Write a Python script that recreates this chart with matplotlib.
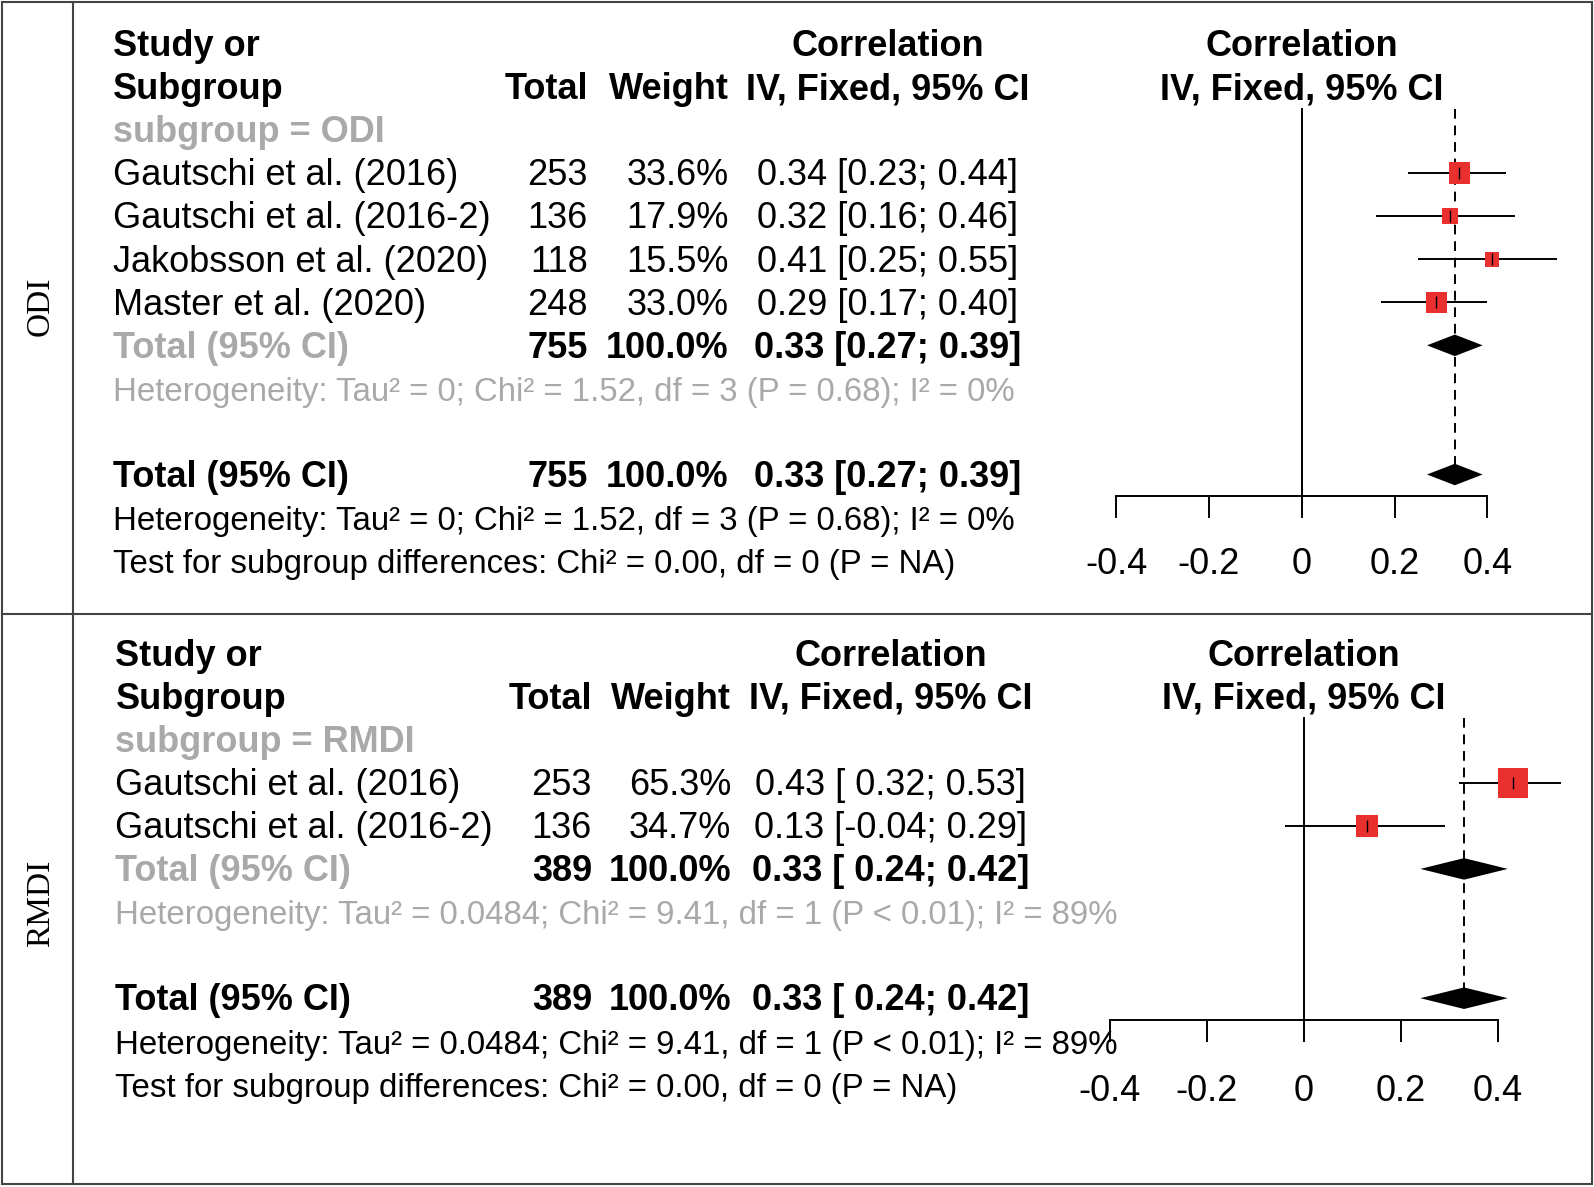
import matplotlib
matplotlib.use("Agg")
import matplotlib.pyplot as plt
import numpy as np

plt.rcParams['font.family'] = ['Liberation Sans', 'DejaVu Sans']

# ---- data: ODI subgroup ----
odi_studies = ["Gautschi et al. (2016)", "Gautschi et al. (2016-2)",
               "Jakobsson et al. (2020)", "Master et al. (2020)"]
odi_total = [253, 136, 118, 248]
odi_weight = [33.6, 17.9, 15.5, 33.0]
odi_est = [0.34, 0.32, 0.41, 0.29]
odi_lo = [0.23, 0.16, 0.25, 0.17]
odi_hi = [0.44, 0.46, 0.55, 0.40]
odi_pooled = [755, 0.33, 0.27, 0.39]
odi_het = "Heterogeneity: Tau\u00b2 = 0; Chi\u00b2 = 1.52, df = 3 (P = 0.68); I\u00b2 = 0%"

# ---- data: RMDI subgroup ----
rmdi_studies = ["Gautschi et al. (2016)", "Gautschi et al. (2016-2)"]
rmdi_total = [253, 136]
rmdi_weight = [65.3, 34.7]
rmdi_est = [0.43, 0.13]
rmdi_lo = [0.32, -0.04]
rmdi_hi = [0.53, 0.29]
rmdi_pooled = [389, 0.33, 0.24, 0.42]
rmdi_het = "Heterogeneity: Tau\u00b2 = 0.0484; Chi\u00b2 = 9.41, df = 1 (P < 0.01); I\u00b2 = 89%"

test_sub = "Test for subgroup differences: Chi\u00b2 = 0.00, df = 0 (P = NA)"
ticks = [-0.4, -0.2, 0, 0.2, 0.4]
tick_labels = ["-0.4", "-0.2", "0", "0.2", "0.4"]

W, H = 1594, 1187
GRAY = '#a9a9a9'
RED = '#e8302f'
FS = 26
FS_HET = 23.8

fig = plt.figure(figsize=(W / 100, H / 100), dpi=100)
base = fig.add_axes([0, 0, 1, 1])
base.set_xlim(0, W)
base.set_ylim(H, 0)
base.axis('off')

# frame
fc = '#444444'
base.add_patch(plt.Rectangle((2.5, 2), 1589.5, 1182, fill=False, lw=1.5, ec=fc))
base.plot([2.5, 1592], [614, 614], color=fc, lw=1.5)
base.plot([72.7, 72.7], [2, 1184], color=fc, lw=1.5)
base.text(40.7, 306, "ODI", rotation=90, ha='center', va='center',
          family='Liberation Serif', fontsize=24)
base.text(40.7, 903, "RMDI", rotation=90, ha='center', va='center',
          family='Liberation Serif', fontsize=24)


def ci_str(e, l, h, wl, wh):
    return f"{e:.2f} [{l:{wl}.2f}; {h:{wh}.2f}]"


def panel(studies, total, weight, est, lo, hi, pooled, het, name,
          tx, tot_r, w_r, ci_c, y0, dy, zero_px, scale, ytop, ybot, pad):
    n = len(studies)
    wl = 5 if min(lo) < 0 else 4
    wh = 5 if min(hi) < 0 else 4

    def yb(i):
        return y0 + dy * i + 12.3

    def txt(x, i, s, ha='left', bold=False, color='black', fs=FS):
        base.text(x, yb(i), s, ha=ha, va='baseline', fontsize=fs,
                  fontweight='bold' if bold else 'normal', color=color)

    txt(tx, 0, "Study or", bold=True)
    txt(tx, 1, "Subgroup", bold=True)
    txt(tot_r, 1, "Total", ha='right', bold=True)
    txt(w_r, 1, "Weight", ha='right', bold=True)
    txt(ci_c, 0, "Correlation", ha='center', bold=True)
    txt(ci_c, 1, "IV, Fixed, 95% CI", ha='center', bold=True)
    txt(tx, 2, "subgroup = " + name, bold=True, color=GRAY)
    for k in range(n):
        r = 3 + k
        txt(tx, r, studies[k])
        txt(tot_r, r, str(total[k]), ha='right')
        txt(w_r, r, f"{weight[k]:.1f}%", ha='right')
        txt(ci_c, r, ci_str(est[k], lo[k], hi[k], wl, wh), ha='center')
    N, pe, pl, ph = pooled
    for r, col in [(n + 3, GRAY), (n + 6, 'black')]:
        txt(tx, r, "Total (95% CI)", bold=True, color=col)
        txt(tot_r, r, str(N), ha='right', bold=True)
        txt(w_r, r, "100.0%", ha='right', bold=True)
        txt(ci_c, r, ci_str(pe, pl, ph, wl, wh), ha='center', bold=True)
    txt(tx, n + 4, het, color=GRAY, fs=FS_HET)
    txt(tx, n + 7, het, fs=FS_HET)
    txt(tx, n + 8, test_sub, fs=FS_HET)

    # forest plot axes
    x0p, x1p = 1060, 1590
    ax = fig.add_axes([x0p / W, 1 - ybot / H, (x1p - x0p) / W, (ybot - ytop) / H])
    ax.patch.set_visible(False)
    ax.set_xlim((x0p - zero_px) / scale, (x1p - zero_px) / scale)
    ax.set_ylim((ybot - y0) / dy, (ytop - y0) / dy)
    for s in ['top', 'left', 'right']:
        ax.spines[s].set_visible(False)
    ax.spines['bottom'].set_position(('data', n + 6.5))
    ax.spines['bottom'].set_bounds(ticks[0], ticks[-1])
    ax.spines['bottom'].set_linewidth(1.4)
    ax.set_yticks([])
    ax.set_xticks(ticks)
    ax.set_xticklabels(tick_labels, fontsize=FS)
    ax.tick_params(axis='x', direction='out', length=16, width=1.4, pad=pad)

    ax.text(0, 0 + 12.3 / dy, "Correlation", ha='center', va='baseline',
            fontsize=FS, fontweight='bold')
    ax.text(0, 1 + 12.3 / dy, "IV, Fixed, 95% CI", ha='center', va='baseline',
            fontsize=FS, fontweight='bold')

    ax.plot([0, 0], [1.5, n + 6.5], color='black', lw=1.4)
    ax.plot([pe, pe], [1.5, n + 6], color='black', lw=1.4, ls=(0, (5, 3.5)))
    rows = np.arange(n) + 3
    ax.hlines(rows, lo, hi, color='black', lw=1.4, zorder=2)
    sizes = (3.72 * np.sqrt(weight) * 0.72) ** 2
    ax.scatter(est, rows, s=sizes, marker='s', color=RED, linewidths=0, zorder=3)
    ax.scatter(est, rows, s=81, marker='|', color='black', linewidths=1.0, zorder=4)
    for r in [n + 3, n + 6]:
        ax.fill([pl, pe, ph, pe], [r, r - 0.25, r, r + 0.25], color='black',
                lw=0, zorder=3)


panel(odi_studies, odi_total, odi_weight, odi_est, odi_lo, odi_hi, odi_pooled,
      odi_het, "ODI", 112.7, 588, 728.5, 887.5, 44.0, 43.05, 1301.7, 464,
      2, 614, 20.5)
panel(rmdi_studies, rmdi_total, rmdi_weight, rmdi_est, rmdi_lo, rmdi_hi,
      rmdi_pooled, rmdi_het, "RMDI", 115.5, 592, 731, 890.5, 653.4, 43.1,
      1304, 485, 614, 1184, 23)

fig.savefig("out.png", dpi=100)
